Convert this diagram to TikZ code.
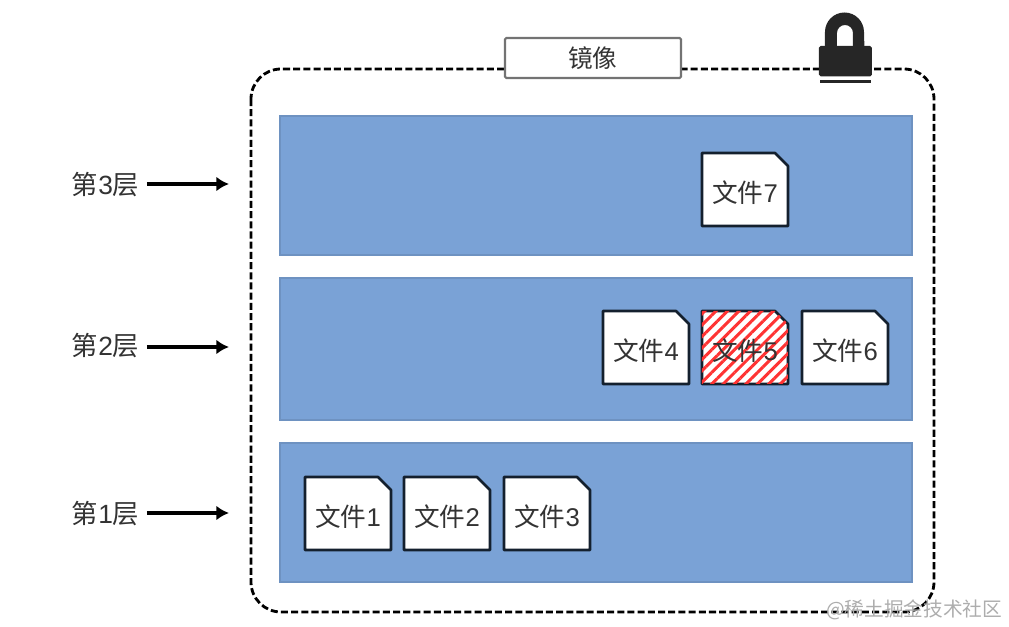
\documentclass[tikz,border=0pt]{standalone}
\usepackage{fontspec}
\setmainfont{Liberation Sans}
\newfontfamily\cjk{Noto Sans CJK SC}
\usetikzlibrary{patterns.meta,arrows.meta}
\definecolor{layerblue}{HTML}{7AA2D6}
\definecolor{fileedge}{HTML}{14202E}
\definecolor{lockdark}{HTML}{262626}
\definecolor{textdark}{HTML}{333333}
\tikzset{
	layerbox/.style={fill=layerblue,draw=layerblue!90!black,line width=0.3pt},
	filetext/.style={text=textdark,font=\fontsize{7.3}{9}\selectfont,inner sep=0pt},
	filepaper/.style={fill=white,draw=fileedge,line width=0.75pt,line join=round},
	hatched/.style={pattern={Lines[angle=45,distance=2.3pt,line width=0.85pt]},pattern color=red!80!white},
	levellabel/.style={text=textdark,font=\fontsize{7.5}{9}\selectfont,inner sep=0pt,anchor=east},
	levelarrow/.style={-{Latex[length=3.6pt,width=4.2pt]},line width=0.9pt,black},
}
% one file: name, centre x, centre y, number
\newcommand{\filedoc}[4]{
	\draw[filepaper] (#2-0.43,#3-0.365) -- (#2+0.3,#3-0.365) -- (#2+0.43,#3-0.235) -- (#2+0.43,#3+0.365) -- (#2-0.43,#3+0.365) -- cycle;
	\node[filetext] (#1) at (#2,#3+0.035) {{\cjk 文件}#4};
}
\begin{document}
\begin{tikzpicture}[y=-1cm]
	\useasboundingbox (0,0) rectangle (10.09,6.27);

	% dashed outline of the image
	\draw[line width=0.8pt,dash pattern=on 2pt off 0.9pt,rounded corners=0.3cm] (2.51,0.69) rectangle (9.34,6.12);
	\node[draw=black!55,fill=white,line width=0.6pt,rounded corners=0.4pt,minimum width=1.76cm,minimum height=0.4cm,inner sep=0pt,text=textdark,font=\cjk\fontsize{7}{9}\selectfont] (title) at (5.93,0.58) {镜像};

	% lock
	\fill[lockdark] (8.25,0.5) -- (8.25,0.32) arc (180:360:0.195) -- (8.645,0.5) -- (8.53,0.5) -- (8.53,0.33) arc (360:180:0.08) -- (8.37,0.5) -- cycle;
	\fill[lockdark,rounded corners=0.5pt] (8.19,0.46) rectangle (8.72,0.765);
	\fill[lockdark] (8.2,0.8) rectangle (8.71,0.83);

	% layers
	\fill[layerbox] (2.8,1.16) rectangle (9.12,2.55);
	\fill[layerbox] (2.8,2.78) rectangle (9.12,4.2);
	\fill[layerbox] (2.8,4.43) rectangle (9.12,5.82);

	\filedoc{file7}{7.45}{1.895}{7}

	\filedoc{file4}{6.46}{3.475}{4}
	\draw[filepaper] (7.02,3.11) -- (7.75,3.11) -- (7.88,3.24) -- (7.88,3.84) -- (7.02,3.84) -- cycle;
	\fill[hatched] (7.02,3.11) -- (7.75,3.11) -- (7.88,3.24) -- (7.88,3.84) -- (7.02,3.84) -- cycle;
	\node[filetext] (file5) at (7.45,3.51) {{\cjk 文件}5};
	\filedoc{file6}{8.45}{3.475}{6}

	\filedoc{file1}{3.48}{5.135}{1}
	\filedoc{file2}{4.47}{5.135}{2}
	\filedoc{file3}{5.47}{5.135}{3}

	% level labels
	\node[levellabel] (level3) at (1.4,1.85) {{\cjk 第}3{\cjk 层}};
	\node[levellabel] (level2) at (1.4,3.46) {{\cjk 第}2{\cjk 层}};
	\node[levellabel] (level1) at (1.4,5.14) {{\cjk 第}1{\cjk 层}};
	\coordinate (start3) at (1.47,1.84);
	\coordinate (start2) at (1.47,3.47);
	\coordinate (start1) at (1.47,5.13);
	\coordinate (end3) at (2.29,1.84);
	\coordinate (end2) at (2.29,3.47);
	\coordinate (end1) at (2.29,5.13);
	\draw[levelarrow] (start3) -- (end3);
	\draw[levelarrow] (start2) -- (end2);
	\draw[levelarrow] (start1) -- (end1);

	% watermark
	\node[text=black!32,inner sep=0pt,anchor=east,font=\cjk\fontsize{5.6}{7}\selectfont] (mark) at (10.03,6.1) {@稀土掘金技术社区};
\end{tikzpicture}
\end{document}
